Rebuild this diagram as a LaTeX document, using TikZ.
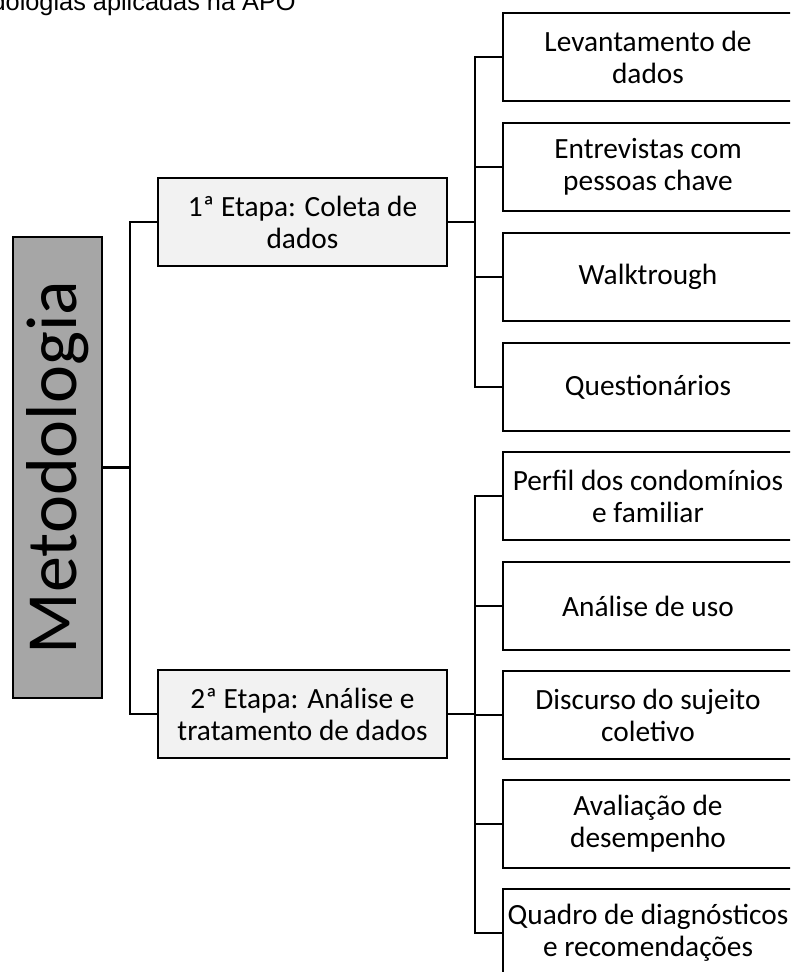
\documentclass[tikz,border=0pt]{standalone}
\usepackage{fontspec}
\setmainfont{Carlito}
\newfontfamily\titlefont{Liberation Sans}
\definecolor{metogray}{HTML}{A6A6A6}
\definecolor{etapagray}{HTML}{F2F2F2}

\tikzset{
  etapa/.style={draw, fill=etapagray, minimum width=216.75pt, minimum height=66pt,
    align=center, inner sep=0pt, font=\fontsize{22}{24}\selectfont},
  item/.style={draw, minimum width=217.5pt, minimum height=66pt,
    align=center, inner sep=0pt, font=\fontsize{22}{24}\selectfont}
}

\begin{document}
\begin{tikzpicture}[x=0.75pt, y=-0.75pt, line width=1.9pt]
\useasboundingbox (0,0) rectangle (790,972);
\clip (0,0) rectangle (790,972);

% titulo cortado no topo
\node [anchor=base west, inner sep=0pt, font=\titlefont\fontsize{19}{22}\selectfont] (title) at (-66,10) {Metodologias aplicadas na APO};

\node [draw, fill=metogray, rotate=90, minimum width=345.75pt, minimum height=66.75pt,
  inner sep=0pt, font=\fontsize{54}{60}\selectfont] (meto) at (57.5,467.5) {Metodologia};

\node [etapa] (e1) at (302.5,222) {1ª Etapa: Coleta de\\dados};
\node [etapa] (e2) at (302.5,714) {2ª Etapa: Análise e\\tratamento de dados};

\node [item] (lev) at (648,57) {Levantamento de\\dados};
\node [item] (ent) at (648,167) {Entrevistas com\\pessoas chave};
\node [item] (walk) at (648,277) {Walktrough};
\node [item] (quest) at (648,387) {Questionários};

\node [item] (perf) at (648,496) {Perfil dos condomínios\\e familiar};
\node [item] (uso) at (648,606) {Análise de uso};
\node [item] (disc) at (648,715) {Discurso do sujeito\\coletivo};
\node [item] (aval) at (648,824) {Avaliação de\\desempenho};
\node [item] (quad) at (648,933) {Quadro de diagnósticos\\e recomendações};

\coordinate (trunk) at (130,467.5);
\coordinate (b1) at (475,222);
\coordinate (b2) at (475,714);

\path [-] (meto) edge (trunk);
\draw (trunk) |- (e1.west);
\draw (trunk) |- (e2.west);

\path [-] (e1) edge (b1);
\draw (b1) |- (lev.west);
\draw (b1) |- (ent.west);
\draw (b1) |- (walk.west);
\draw (b1) |- (quest.west);

\path [-] (e2) edge (b2);
\draw (b2) |- (perf.west);
\draw (b2) |- (uso.west);
\draw (b2) |- (disc.west);
\draw (b2) |- (aval.west);
\draw (b2) |- (quad.west);
\end{tikzpicture}
\end{document}
